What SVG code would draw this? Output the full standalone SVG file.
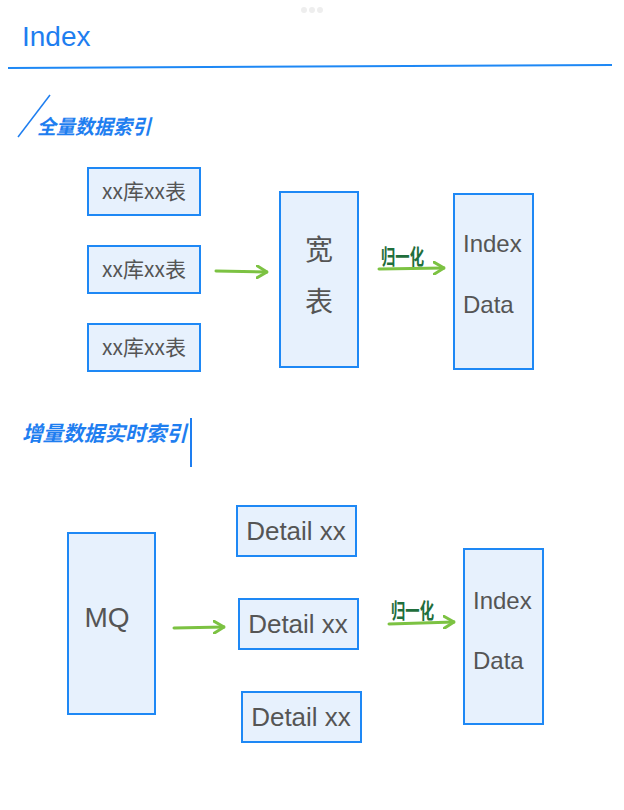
<svg xmlns="http://www.w3.org/2000/svg" width="624" height="810" viewBox="0 0 624 810">
<style>
.box{fill:#e7f1fd;stroke:#1e88f5;stroke-width:2}
.t{font-family:"Liberation Sans","Noto Sans CJK SC",sans-serif;fill:#555;}
.cn{font-family:"Noto Sans CJK SC",sans-serif;fill:#555;}
.h{font-family:"Noto Sans CJK SC",sans-serif;fill:#1e7ef0;font-weight:bold;font-style:italic}
.g{font-family:"Noto Sans CJK SC",sans-serif;fill:#1f6e3c;font-weight:bold}
.arr{stroke:#7cc242;stroke-width:3;fill:none;stroke-linecap:round;marker-end:url(#ah)}
</style>
<defs>
<marker id="ah" viewBox="0 0 12 14" refX="11" refY="7" markerWidth="12" markerHeight="14" markerUnits="userSpaceOnUse" orient="auto">
<path d="M1,1 L11,7 L1,13" fill="none" stroke="#7cc242" stroke-width="3" stroke-linecap="round" stroke-linejoin="round"/>
</marker>
</defs>
<rect width="624" height="810" fill="#fff"/>
<g id="dots" fill="#eeeeee"><circle cx="304" cy="10" r="3"/><circle cx="312" cy="10" r="3"/><circle cx="320" cy="10" r="3"/></g>
<g id="title">
<text x="22" y="46" class="t" style="fill:#1e7ef0" font-size="28">Index</text>
<line x1="8" y1="68" x2="612" y2="65" stroke="#1e88f5" stroke-width="2"/>
</g>
<g id="heading1">
<line x1="50" y1="95" x2="18" y2="137" stroke="#1e7ef0" stroke-width="1.5"/>
<text x="37" y="134" class="h" font-size="20" textLength="114" lengthAdjust="spacingAndGlyphs">全量数据索引</text>
</g>
<g id="table1"><rect class="box" x="88" y="168" width="112" height="47"/><text x="144" y="199" class="cn" font-size="21" text-anchor="middle">xx库xx表</text></g>
<g id="table2"><rect class="box" x="88" y="246" width="112" height="47"/><text x="144" y="277" class="cn" font-size="21" text-anchor="middle">xx库xx表</text></g>
<g id="table3"><rect class="box" x="88" y="324" width="112" height="47"/><text x="144" y="355" class="cn" font-size="21" text-anchor="middle">xx库xx表</text></g>
<g id="widetable"><rect class="box" x="280" y="192" width="78" height="175"/>
<text x="319" y="260" class="cn" font-size="28" text-anchor="middle">宽</text>
<text x="319" y="312" class="cn" font-size="28" text-anchor="middle">表</text></g>
<g id="indexdata1"><rect class="box" x="454" y="194" width="79" height="175"/>
<text x="463" y="252" class="t" font-size="24">Index</text>
<text x="463" y="313" class="t" font-size="24">Data</text></g>
<g id="heading2">
<text x="22" y="441" class="h" font-size="21" textLength="165" lengthAdjust="spacingAndGlyphs">增量数据实时索引</text>
<line x1="191" y1="418" x2="191" y2="467" stroke="#1e7ef0" stroke-width="2"/>
</g>
<g id="mq"><rect class="box" x="68" y="533" width="87" height="181"/>
<text x="107" y="627" class="t" font-size="28" text-anchor="middle">MQ</text></g>
<g id="detail1"><rect class="box" x="237" y="506" width="119" height="50"/><text x="296" y="540" class="t" font-size="26" text-anchor="middle">Detail xx</text></g>
<g id="detail2"><rect class="box" x="239" y="599" width="119" height="50"/><text x="298" y="633" class="t" font-size="26" text-anchor="middle">Detail xx</text></g>
<g id="detail3"><rect class="box" x="242" y="692" width="119" height="50"/><text x="301" y="726" class="t" font-size="26" text-anchor="middle">Detail xx</text></g>
<g id="indexdata2"><rect class="box" x="464" y="549" width="79" height="175"/>
<text x="473" y="609" class="t" font-size="24">Index</text>
<text x="473" y="669" class="t" font-size="24">Data</text></g>
<g id="connectors">
<line class="arr" x1="216" y1="271" x2="267" y2="272"/>
<line class="arr" x1="379" y1="269" x2="444" y2="268"/>
<text x="381" y="264" class="g" font-size="21" textLength="43" lengthAdjust="spacingAndGlyphs">归一化</text>
<line class="arr" x1="174" y1="628" x2="224" y2="627"/>
<line class="arr" x1="389" y1="624" x2="454" y2="622"/>
<text x="391" y="618" class="g" font-size="21" textLength="43" lengthAdjust="spacingAndGlyphs">归一化</text>
</g>
</svg>
